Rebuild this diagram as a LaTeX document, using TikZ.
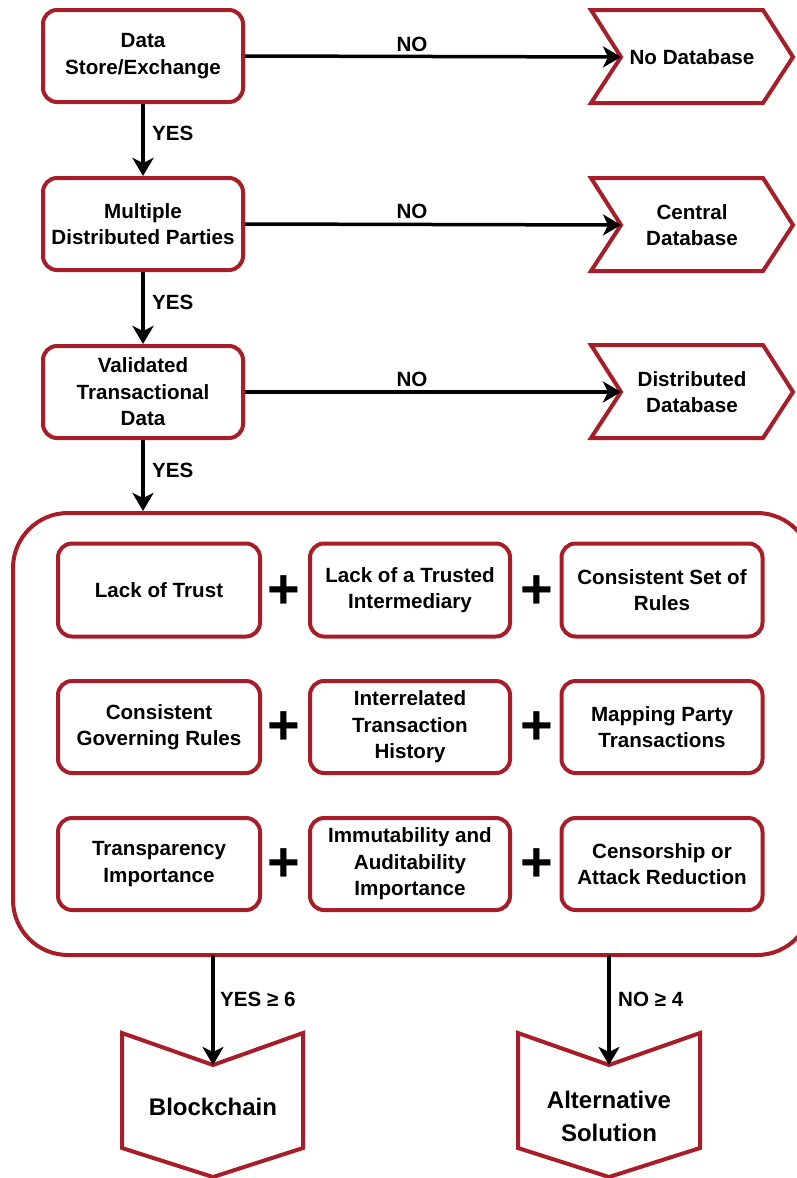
\documentclass[tikz,border=0pt]{standalone}
\usepackage{fontspec}
\setmainfont{Liberation Sans}
\usetikzlibrary{arrows.meta}
\definecolor{dred}{RGB}{168,30,40}
\begin{document}
\begin{tikzpicture}[x=1pt,y=-1pt,
  box/.style={draw=dred, line width=4pt, rounded corners=14pt, fill=white, minimum width=200pt, minimum height=92pt, inner sep=0pt, align=center, font=\fontsize{20.6}{26.5}\selectfont\bfseries},
  txt/.style={align=center, inner sep=0pt, font=\fontsize{20.6}{26}\selectfont\bfseries},
  big/.style={align=center, inner sep=0pt, font=\fontsize{24}{33}\selectfont\bfseries},
  lbl/.style={anchor=west, inner sep=0pt, font=\fontsize{20.6}{26}\selectfont\bfseries},
  arr/.style={line width=3.5pt, -{Stealth[length=18pt,width=21pt,inset=5pt]}},
  shp/.style={draw=dred, line width=4pt, line join=miter},
  plussign/.style={inner sep=0pt, font=\fontsize{56}{56}\selectfont\bfseries}
]
\useasboundingbox (0,0) rectangle (796,1178);

% left decision boxes
\node[box] (b1) at (143,56) {Data\\Store/Exchange};
\node[box] (b2) at (143,224) {Multiple\\Distributed Parties};
\node[box] (b3) at (143,392) {Validated\\Transactional\\Data};

% chevrons
\draw[shp] (591,10) -- (763,10) -- (793,57) -- (763,103) -- (591,103) -- (621,57) -- cycle;
\coordinate (c1) at (621,57);
\node[txt] (t1) at (692,57) {No Database};
\draw[shp] (591,178) -- (763,178) -- (793,225) -- (763,271) -- (591,271) -- (621,225) -- cycle;
\coordinate (c2) at (621,225);
\node[txt] (t2) at (692,225) {Central\\Database};
\draw[shp] (591,345) -- (763,345) -- (793,392) -- (763,438) -- (591,438) -- (621,392) -- cycle;
\coordinate (c3) at (621,392);
\node[txt] (t3) at (692,392) {Distributed\\Database};

% NO arrows
\draw[arr] (b1.east) -- (c1);
\draw[arr] (b2.east) -- (c2);
\draw[arr] (b3.east) -- (c3);
\node[txt] at (412,44) {NO};
\node[txt] at (412,211) {NO};
\node[txt] at (412,379) {NO};

% big container
\node[draw=dred, line width=4pt, rounded corners=55pt, minimum width=799pt, minimum height=442pt, inner sep=0pt] (grp) at (412.5,734) {};

% YES arrows
\draw[arr] (b1.south) -- (b2.north);
\draw[arr] (b2.south) -- (b3.north);
\draw[arr] (b3.south) -- (b3.south |- grp.north);
\node[lbl] at (152,133) {YES};
\node[lbl] at (152,302) {YES};
\node[lbl] at (152,470) {YES};

% criteria boxes
\node[box, minimum width=202pt, minimum height=93pt] (r11) at (159,590) {Lack of Trust};
\node[box, minimum width=200pt, minimum height=93pt] (r12) at (410,590) {Lack of a Trusted\\Intermediary};
\node[box, minimum width=201pt, minimum height=93pt] (r13) at (662,590) {Consistent Set of\\Rules};
\node[box, minimum width=202pt, minimum height=92pt] (r21) at (159,727) {Consistent\\Governing Rules};
\node[box, minimum width=200pt, minimum height=92pt] (r22) at (410,727) {Interrelated\\Transaction\\History};
\node[box, minimum width=201pt, minimum height=92pt] (r23) at (662,727) {Mapping Party\\Transactions};
\node[box, minimum width=202pt, minimum height=92pt] (r31) at (159,864) {Transparency\\Importance};
\node[box, minimum width=200pt, minimum height=92pt] (r32) at (410,864) {Immutability and\\Auditability\\Importance};
\node[box, minimum width=201pt, minimum height=92pt] (r33) at (662,864) {Censorship or\\Attack Reduction};

\node[plussign] at (284,592) {+};
\node[plussign] at (537,592) {+};
\node[plussign] at (284,728) {+};
\node[plussign] at (537,728) {+};
\node[plussign] at (284,865) {+};
\node[plussign] at (537,865) {+};

% bottom outcomes
\draw[shp] (122,1033) -- (213,1065) -- (303,1033) -- (303,1148) -- (213,1177) -- (122,1148) -- cycle;
\coordinate (p1) at (213,1065);
\node[big] (o1) at (213,1107) {Blockchain};
\draw[shp] (518,1033) -- (609,1065) -- (700,1033) -- (700,1148) -- (609,1177) -- (518,1148) -- cycle;
\coordinate (p2) at (609,1065);
\node[big] (o2) at (609,1116) {Alternative\\Solution};

\coordinate (g1) at (213,955);
\coordinate (g2) at (609,955);
\draw[arr] (g1) -- (p1);
\draw[arr] (g2) -- (p2);
\node[lbl] at (220,999) {YES ≥ 6};
\node[lbl] at (618,999) {NO ≥ 4};
\end{tikzpicture}
\end{document}
